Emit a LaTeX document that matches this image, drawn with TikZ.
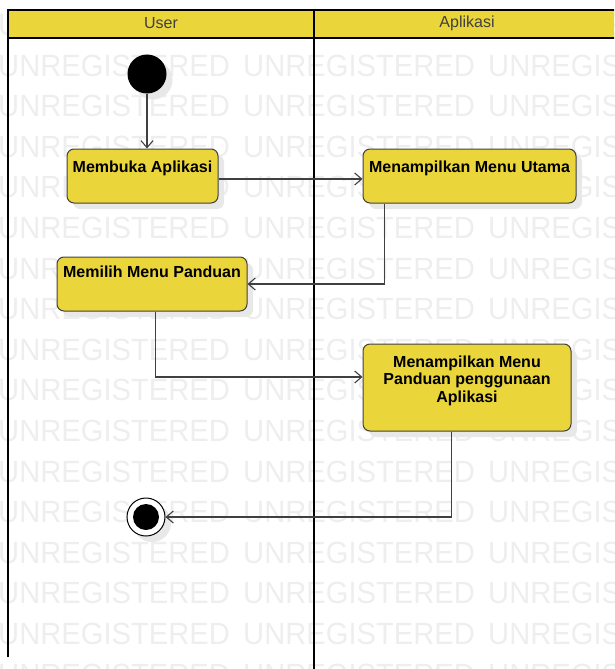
\documentclass[tikz,border=0pt]{standalone}
\usepackage{fontspec}
\setmainfont{Liberation Sans}
\usetikzlibrary{arrows.meta, shadows}
\definecolor{umlyellow}{RGB}{234,213,58}
\definecolor{umlline}{RGB}{64,64,64}
\definecolor{wmgray}{RGB}{238,238,238}
\tikzset{
  act/.style={draw=umlline, line width=1pt, fill=umlyellow, rounded corners=7pt, inner sep=0pt,
    drop shadow={shadow xshift=6pt, shadow yshift=-6pt, fill=black!9, opacity=1}},
  acttext/.style={anchor=north, inner sep=0pt, align=center, font=\bfseries\fontsize{16}{17.5}\selectfont},
  flow/.style={draw=umlline, line width=1.1pt, -{Straight Barb[length=7pt,width=12pt]}},
  lane/.style={line width=2pt},
  lanehead/.style={inner sep=0pt, text=black!75, font=\fontsize{16}{16}\selectfont},
  wmark/.style={anchor=west, inner sep=0pt, text=wmgray, font=\fontsize{30.7}{30.7}\selectfont}
}

\begin{document}
\begin{tikzpicture}[x=1pt, y=-1pt]
\useasboundingbox (0,0) rectangle (614,669);
\clip (0,0) rectangle (614,669);
\foreach \r in {0,...,16}
  \node[wmark] (wm\r) at (-2,25+40.6*\r) {\scalebox{0.95}[1]{UNREGISTERED\hspace{14pt}UNREGISTERED\hspace{14pt}UNREGISTERED}};

\fill[umlyellow] (8,10) rectangle (620,38);
\draw[lane] (620,10) -- (8,10) -- (8,657);
\draw[lane] (8,38) -- (620,38);
\draw[lane] (314,10) -- (314,672);
\node[lanehead] (user) at (161,23) {User};
\node[lanehead] (app) at (467,23) {Aplikasi};

\node[circle, fill=black, minimum size=39pt, inner sep=0pt, drop shadow={shadow xshift=6pt, shadow yshift=-6pt, fill=black!9, opacity=1}] (start) at (147,74) {};
\node[act, minimum width=151pt, minimum height=54pt] (ma) at (142.5,176) {};
\node[act, minimum width=213pt, minimum height=54pt] (mu) at (469.5,176) {};
\node[act, minimum width=190pt, minimum height=54pt] (mp) at (152,284) {};
\node[act, minimum width=208pt, minimum height=87pt] (mpp) at (467,387.5) {};
\node[circle, draw=black, line width=1pt, fill=white, minimum size=38pt, inner sep=0pt, drop shadow={shadow xshift=6pt, shadow yshift=-6pt, fill=black!9, opacity=1}] (end) at (146,517) {};
\node[circle, fill=black, minimum size=26pt, inner sep=0pt] (endin) at (end) {};

\node[acttext] (ma-t) at ([yshift=-12pt]ma.north) {Membuka Aplikasi};
\node[acttext] (mu-t) at ([yshift=-12pt]mu.north) {Menampilkan Menu Utama};
\node[acttext] (mp-t) at ([yshift=-9pt]mp.north) {Memilih Menu Panduan};
\node[acttext] (mpp-t) at ([yshift=-12pt]mpp.north) {Menampilkan Menu\\Panduan penggunaan\\Aplikasi};

\draw[flow] (start) -- (start |- ma.north);
\draw[flow] ([yshift=-3pt]ma.east) -- ([yshift=-3pt]mu.west);
\draw[flow] ([xshift=22pt]mu.south west) |- (mp.east);
\draw[flow] ([xshift=99pt]mp.south west) |- ([yshift=10.5pt]mpp.west);
\draw[flow] ([xshift=89pt]mpp.south west) |- (end);
\end{tikzpicture}
\end{document}
